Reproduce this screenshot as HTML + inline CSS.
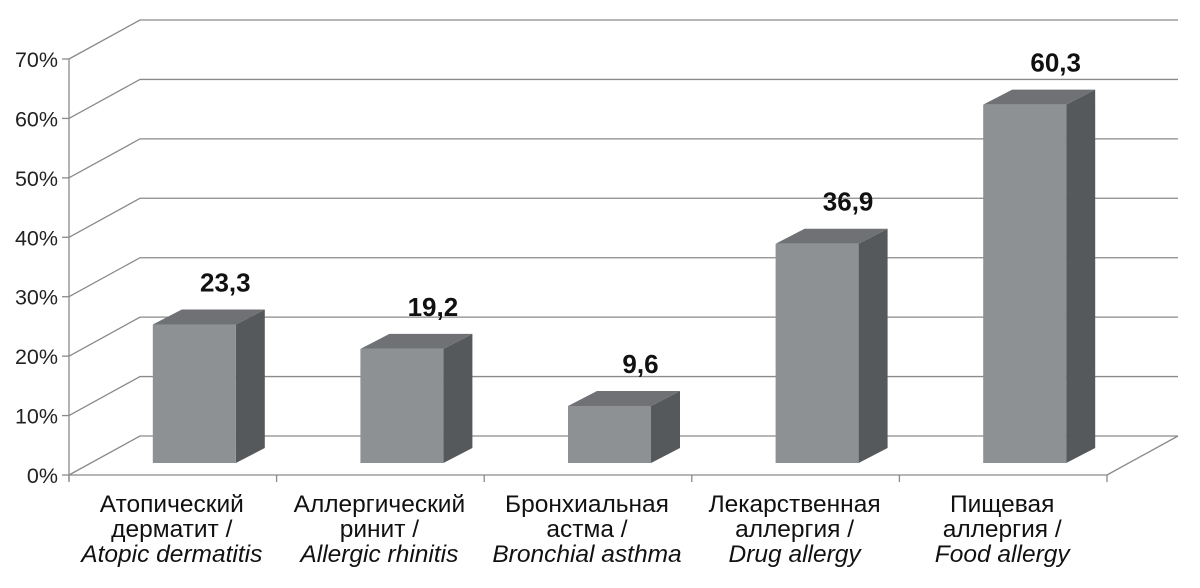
<!DOCTYPE html>
<html><head><meta charset="utf-8"><style>
html,body{margin:0;padding:0;background:#fff;}
svg{display:block;font-family:"Liberation Sans",Arial,sans-serif;}
</style></head><body>
<svg id="chart" width="1200" height="588" viewBox="0 0 1200 588" xmlns="http://www.w3.org/2000/svg">
<g id="grid"></g>
<g id="axis"></g>
<g id="bars"></g>
<g id="cats"></g>
</svg>
<script>
const categoriesRu1 = ["Атопический","Аллергический","Бронхиальная","Лекарственная","Пищевая"];
const categoriesRu2 = ["дерматит /","ринит /","астма /","аллергия /","аллергия /"];
const categoriesEn = ["Atopic dermatitis","Allergic rhinitis","Bronchial asthma","Drug allergy","Food allergy"];
const values = [23.3, 19.2, 9.6, 36.9, 60.3];
const valueLabels = ["23,3","19,2","9,6","36,9","60,3"];
const ticks = [0,10,20,30,40,50,60,70];
const tickLabels = ["0%","10%","20%","30%","40%","50%","60%","70%"];

const NS="http://www.w3.org/2000/svg";
const X0=69, X1=1107, Y0=475, YTOP=59, DX=71, DY=-39;
const yAxis=v=>Y0-(v/70)*(Y0-YTOP);
const catW=(X1-X0)/categoriesEn.length;
const xCat=i=>X0+catW*(i+0.5);
const BAR_BASE=463, BW=83, BDX=29, BDY=-15;
const yBar=v=>BAR_BASE-v*(Y0-YTOP)/70;
function mk(tag,attrs,parent){const e=document.createElementNS(NS,tag);for(const k in attrs)e.setAttribute(k,attrs[k]);parent.appendChild(e);return e;}
const grid=document.getElementById('grid'),axis=document.getElementById('axis'),bars=document.getElementById('bars'),cats=document.getElementById('cats');

ticks.forEach((t,i)=>{
  const y=yAxis(t);
  const pl=mk('polyline',{points:`${X0},${y} ${X0+DX},${y+DY} 1178,${y+DY}`,fill:'none',stroke:'#8a8a8a','stroke-width':1.3},grid);
  
  
  const tk=mk('line',{x1:X0-7,y1:y,x2:X0,y2:y,stroke:'#8a8a8a','stroke-width':1.3},axis);
  
  
  const tx=mk('text',{x:58,y:y+8,'text-anchor':'end','font-size':21.5,fill:'#222'},axis);
  tx.textContent=tickLabels[i];
  
  
});
mk('line',{x1:X0,y1:yAxis(70),x2:X0,y2:Y0+6,stroke:'#8a8a8a','stroke-width':1.3},axis);
mk('line',{x1:X0,y1:Y0,x2:X1,y2:Y0,stroke:'#8a8a8a','stroke-width':1.3},axis);
mk('line',{x1:X1,y1:Y0,x2:X1+DX,y2:Y0+DY,stroke:'#8a8a8a','stroke-width':1.3},axis);
for(let i=0;i<=categoriesEn.length;i++){const x=X0+catW*i;mk('line',{x1:x,y1:Y0,x2:x,y2:Y0+7,stroke:'#8a8a8a','stroke-width':1.3},axis);}

values.forEach((v,i)=>{
  const cx=xCat(i)+21.5, l=cx-BW/2, r=cx+BW/2, top=yBar(v);
  const g=mk('g',{},bars);
  
  
  mk('polygon',{points:`${r},${BAR_BASE} ${r+BDX},${BAR_BASE+BDY} ${r+BDX},${top+BDY} ${r},${top}`,fill:'#56595c'},g);
  mk('polygon',{points:`${l},${top} ${l+BDX},${top+BDY} ${r+BDX},${top+BDY} ${r},${top}`,fill:'#6f7174'},g);
  mk('rect',{x:l,y:top,width:BW,height:BAR_BASE-top,fill:'#8e9194'},g);
  const t=mk('text',{x:cx+31,y:top-33,'text-anchor':'middle','font-size':26,'font-weight':'bold',fill:'#111'},bars);
  t.textContent=valueLabels[i];
  
  
});

categoriesEn.forEach((c,i)=>{
  const x=xCat(i)-1;
  const lines=[[categoriesRu1[i],512,'normal'],[categoriesRu2[i],537,'normal'],[c,562,'italic']];
  lines.forEach((ln,j)=>{
    const t=mk('text',{x:x,y:ln[1],'text-anchor':'middle','font-size':24.5,'font-style':ln[2],fill:'#111'},cats);
    t.textContent=ln[0];
    
    
  });
});
</script>
</body></html>
